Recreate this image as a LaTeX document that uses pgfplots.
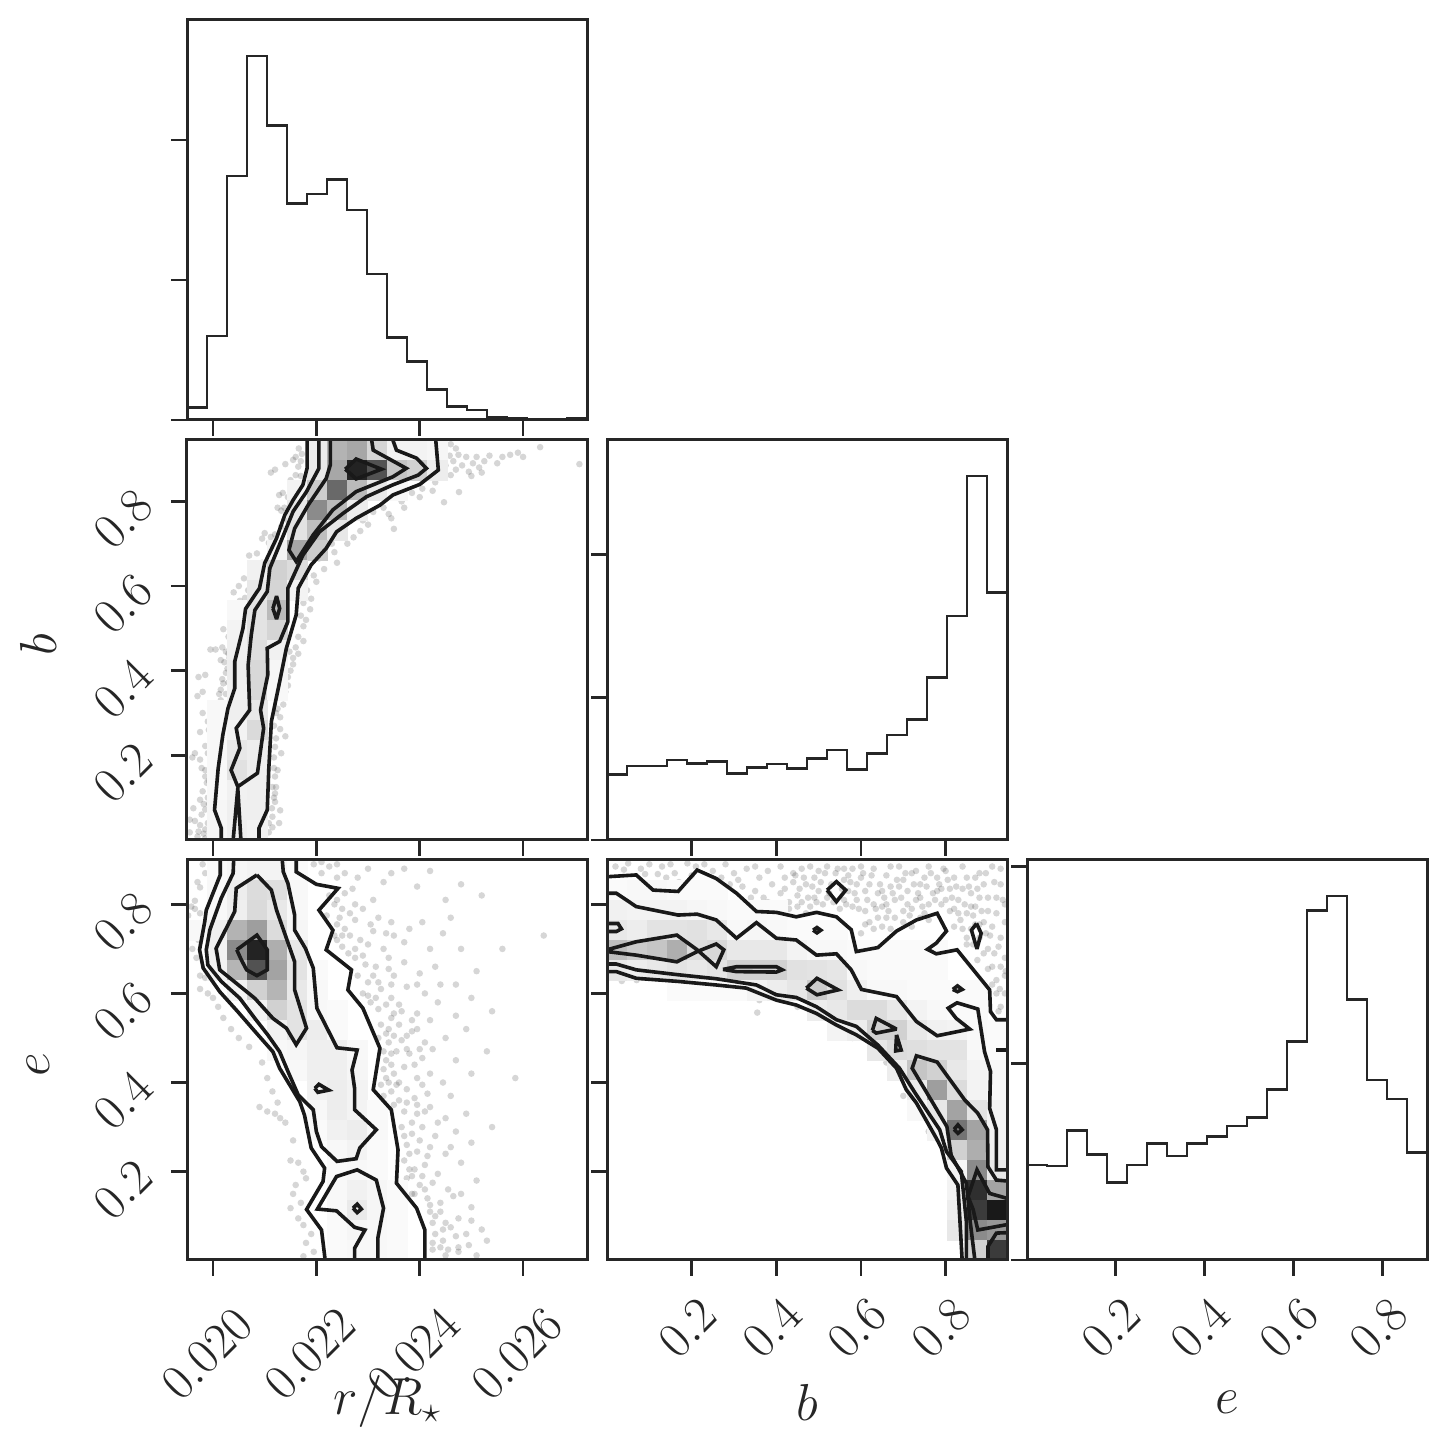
\documentclass[border=0pt]{standalone}
\usepackage{fix-cm}
\usepackage{pgfplots}
\pgfplotsset{compat=1.18}
\definecolor{fr}{rgb}{0.15,0.15,0.15}
\definecolor{cl}{rgb}{0.10,0.10,0.10}
\pgfplotsset{
 panel/.style={scale only axis,width=400pt,height=400pt,anchor=south west,
  axis on top,clip marker paths=true,
  axis line style={line width=3pt,color=fr},
  every tick/.style={line width=2.8pt,color=fr},
  major tick length=16pt,
  xtick pos=bottom,ytick pos=left,tick align=outside,
  xtick align=outside,ytick align=outside,
  xticklabels={},yticklabels={},
  scaled ticks=false,
  tick label style={font=\fontsize{50}{56}\selectfont,color=fr},
  xticklabel style={xshift=-6pt,yshift=-78pt,rotate=45,anchor=center},
  yticklabel style={xshift=-48pt,yshift=-18pt,rotate=45,anchor=center},
  xlabel style={at={(axis description cs:0.5,-0.355)},anchor=center,font=\fontsize{52}{56}\selectfont,color=fr},
  ylabel style={at={(axis description cs:-0.3725,0.4875)},anchor=center,font=\fontsize{52}{56}\selectfont,color=fr},
  colormap={gk}{rgb=(1,1,1) rgb=(0.1,0.1,0.1)},
  point meta min=0,point meta max=1,
 },
 shortx/.style={xticklabel style={xshift=19.8pt,yshift=17pt}},
 rxa/.style={xmin=0.019497,xmax=0.027237,xtick={0.020,0.022,0.024,0.026}},
 bxa/.style={xmin=0,xmax=0.945,xtick={0.2,0.4,0.6,0.8}},
 exa/.style={xmin=0.0016,xmax=0.8996,xtick={0.2,0.4,0.6,0.8}},
 bya/.style={ymin=0,ymax=0.945,ytick={0.2,0.4,0.6,0.8}},
 eya/.style={ymin=0.0016,ymax=0.8996,ytick={0.2,0.4,0.6,0.8}},
 stepline/.style={const plot,no marks,line width=2.8pt,color=fr,line join=miter},
 ct/.style={no marks,line width=3.6pt,color=cl,line join=miter,miter limit=3},
 sdots/.style={only marks,mark=*,mark size=3.3pt,mark options={draw opacity=0,fill=black,fill opacity=0.16}},
 cellsq/.style={only marks,scatter,scatter src=explicit,mark=square*,mark size=10pt,mark options={line width=0.1pt},scatter/use mapped color={fill=mapped color,draw=mapped color}},
}
\begin{document}
\begin{tikzpicture}[x=1pt,y=1pt]
\useasboundingbox (0,0) rectangle (1447,1453);

%% r/R histogram
\begin{axis}[panel,rxa,at={(187pt,1033pt)},ymin=0,ymax=2857,ytick={0,1000,2000}]
\addplot[stepline] coordinates {(0.019497,90)(0.019884,600)(0.020271,1743)(0.020658,2600)(0.021045,2105)(0.021432,1548)(0.021819,1614)(0.022206,1719)(0.022593,1500)(0.022980,1043)(0.023367,590)(0.023754,419)(0.024141,219)(0.024528,95)(0.024915,71)(0.025302,19)(0.025689,14)(0.026076,0)(0.026463,0)(0.026850,10)(0.027237,10)};
\end{axis}

%% b histogram
\begin{axis}[panel,bxa,at={(607pt,613pt)},ymin=0,ymax=2804,ytick={0,1000,2000}]
\addplot[stepline] coordinates {(0,460)(0.04725,519)(0.0945,519)(0.14175,561)(0.189,537)(0.23625,551)(0.2835,467)(0.33075,509)(0.378,533)(0.42525,502)(0.4725,572)(0.51975,631)(0.567,495)(0.61425,607)(0.6615,736)(0.70875,846)(0.756,1140)(0.80325,1570)(0.8505,2551)(0.89775,1736)(0.945,1736)};
\end{axis}

%% e histogram
\begin{axis}[panel,shortx,exa,at={(1027pt,193pt)},ymin=0,ymax=2034,ytick={0,1000,2000},
 xticklabels={$0.2$,$0.4$,$0.6$,$0.8$},xlabel={$e$}]
\addplot[stepline] coordinates {(0.0016,483)(0.0465,478)(0.0914,658)(0.1363,537)(0.1812,395)(0.2261,483)(0.2710,593)(0.3159,529)(0.3608,593)(0.4057,627)(0.4506,681)(0.4955,725)(0.5404,868)(0.5853,1110)(0.6302,1776)(0.6751,1851)(0.7200,1325)(0.7649,915)(0.8098,819)(0.8547,547)(0.8996,547)};
\end{axis}

%% b against r/R
\begin{axis}[panel,rxa,bya,at={(187pt,613pt)},yticklabels={$0.2$,$0.4$,$0.6$,$0.8$},ylabel={$b$}]
\addplot[sdots] coordinates {
(.02166,.925)(.02172,.912)(.02160,.905)(.02170,.895)(.02155,.898)(.02140,.888)(.02165,.882)(.02120,.875)(.02112,.868)(.02160,.862)(.02150,.850)(.02158,.842)
(.02135,.820)(.02128,.815)(.02145,.810)(.02138,.785)(.02125,.785)(.02132,.778)(.02145,.775)(.02100,.725)(.02112,.716)(.02095,.712)(.02120,.722)(.02108,.702)(.02085,.677)(.02070,.672)(.02095,.655)(.02080,.640)(.02060,.618)(.02078,.610)(.02050,.600)(.02068,.590)(.02040,.585)(.02062,.572)(.02052,.565)(.02045,.555)(.02035,.540)(.02050,.528)(.02020,.498)(.02040,.505)(.02030,.480)(.02040,.470)(.02018,.455)(.02005,.450)(.01995,.450)(.02025,.445)(.02032,.430)(.02015,.425)(.02022,.420)(.02028,.405)(.02035,.400)(.02040,.395)(.01985,.390)(.01972,.385)(.02018,.380)(.02030,.372)(.02035,.360)(.02015,.355)(.02025,.345)(.01980,.350)(.01970,.340)(.02015,.330)(.02005,.320)(.02022,.310)(.02008,.300)(.01995,.300)(.02018,.290)(.02010,.282)(.02000,.270)(.02015,.260)(.02005,.250)(.01998,.240)(.02010,.232)(.01985,.222)(.02000,.215)(.01990,.205)(.02008,.200)(.01965,.205)(.01960,.195)(.01975,.190)(.01995,.185)(.02002,.175)(.01985,.165)(.01978,.170)(.01998,.155)(.02004,.148)(.01988,.135)(.01995,.120)(.01980,.115)(.01990,.100)(.02000,.092)(.01975,.095)(.01962,.075)(.01985,.072)(.01995,.060)(.02000,.048)(.01955,.048)(.01965,.045)(.01975,.035)(.01985,.025)(.02000,.020)(.01995,.012)(.01955,.018)(.01970,.008)(.01985,.004)(.02008,.005)
(.02122,.125)(.02118,.100)(.02130,.070)(.02128,.040)(.02115,.030)(.02108,.018)(.02100,.010)(.02115,.055)(.02120,.090)(.02120,.150)(.02125,.165)(.02118,.195)(.02132,.205)(.02140,.245)(.02120,.220)(.02130,.262)(.02118,.270)(.02130,.290)(.02122,.300)(.02136,.320)(.02132,.340)(.02145,.365)(.02150,.400)(.02135,.385)(.02155,.430)(.02148,.445)(.02160,.455)(.02165,.480)(.02175,.505)(.02170,.530)(.02188,.545)(.02175,.560)(.02182,.590)(.02175,.610)(.02195,.625)(.02205,.665)(.02215,.680)(.02240,.655)(.02230,.700)(.02245,.720)(.02255,.745)(.02272,.715)(.02285,.730)(.02290,.755)(.02310,.775)(.02330,.785)(.02345,.760)(.02350,.735)(.02365,.800)(.02385,.820)(.02405,.830)(.02430,.845)(.02447,.798)(.02476,.822)(.02460,.862)
(.02445,.902)(.02442,.920)(.02450,.885)(.02458,.908)(.02465,.895)(.02470,.875)(.02475,.910)(.02482,.885)(.02490,.905)(.02495,.870)(.02503,.890)(.02510,.905)(.02515,.880)(.02525,.895)(.02535,.908)(.02550,.890)(.02560,.905)(.02575,.910)(.02590,.915)(.02600,.905)(.02520,.868)(.02470,.925)(.02460,.935)(.02500,.860)(.02633,.928)(.02709,.888)
(.01980,.300)(.01990,.280)(.01992,.260)(.01975,.255)(.02002,.295)(.02012,.345)(.02020,.370)(.02025,.395)(.02030,.440)(.02038,.455)(.02045,.490)(.02055,.510)(.02065,.550)(.02075,.580)(.02085,.600)(.02095,.625)(.02105,.640)(.02118,.680)(.02125,.700)(.02132,.740)(.02145,.755)(.02150,.790)(.02160,.815)(.02170,.860)(.01985,.150)(.01992,.140)(.01982,.085)(.01992,.085)(.01998,.105)(.01978,.060)(.01990,.040)(.01972,.020)(.01982,.015)(.02000,.035)(.02108,.040)(.02114,.075)(.02120,.110)(.02115,.125)(.02118,.170)(.02122,.240)(.02125,.310)(.02140,.350)(.02145,.385)(.02155,.415)(.02165,.440)(.02175,.470)(.02180,.520)(.02190,.570)(.02200,.610)(.02215,.640)(.02235,.680)(.02260,.700)(.02300,.745)(.02340,.770)(.02370,.785)(.02400,.810)(.02425,.825)};
\addplot[cellsq] table[meta index=2,row sep=\\]{
.02201 .921 .08\\.02240 .921 .33\\.02279 .921 .38\\.02318 .921 .18\\.02356 .921 .05\\.02395 .921 .05\\.02434 .921 .04\\
.02201 .874 .10\\.02240 .874 .38\\.02279 .874 .95\\.02318 .874 .75\\.02356 .874 .25\\.02395 .874 .20\\.02434 .874 .08\\
.02163 .827 .05\\.02201 .827 .22\\.02240 .827 .65\\.02279 .827 .30\\.02318 .827 .10\\.02356 .827 .03\\
.02163 .779 .10\\.02201 .779 .50\\.02240 .779 .30\\.02279 .779 .08\\
.02163 .732 .12\\.02201 .732 .28\\.02240 .732 .10\\
.02124 .685 .05\\.02163 .685 .38\\.02201 .685 .22\\
.02085 .638 .06\\.02124 .638 .20\\.02163 .638 .15\\
.02085 .590 .10\\.02124 .590 .18\\.02163 .590 .05\\
.02047 .543 .03\\.02085 .543 .12\\.02124 .543 .30\\
.02047 .496 .05\\.02085 .496 .12\\.02124 .496 .18\\
.02047 .449 .07\\.02085 .449 .14\\.02124 .449 .06\\
.02047 .401 .08\\.02085 .401 .17\\.02124 .401 .04\\
.02047 .354 .06\\.02085 .354 .17\\.02124 .354 .03\\
.02008 .307 .03\\.02047 .307 .07\\.02085 .307 .10\\
.02008 .260 .03\\.02047 .260 .05\\.02085 .260 .16\\
.02008 .213 .03\\.02047 .213 .10\\.02085 .213 .08\\
.02008 .165 .03\\.02047 .165 .13\\.02085 .165 .08\\
.02008 .118 .03\\.02047 .118 .06\\.02085 .118 .07\\
.02008 .071 .04\\.02047 .071 .07\\.02085 .071 .07\\
.02008 .024 .04\\.02047 .024 .07\\.02085 .024 .05\\
};
\addplot[ct] coordinates {(.02182,.945)(.02182,.878)(.02174,.839)(.02155,.803)(.02139,.768)(.02123,.713)(.02100,.654)(.02090,.595)(.02063,.546)(.02058,.500)(.02042,.421)(.02042,.358)(.02029,.311)(.02019,.248)(.02010,.169)(.02003,.071)(.02016,.028)(.02016,0)};
\addplot[ct] coordinates {(.02089,0)(.02089,.028)(.02105,.071)(.02108,.169)(.02113,.280)(.02129,.374)(.02142,.453)(.02161,.532)(.02165,.595)(.02190,.650)(.02219,.689)(.02239,.728)(.02277,.760)(.02323,.791)(.02348,.815)(.02400,.840)(.02436,.874)(.02431,.945)};
\addplot[ct] coordinates {(.02348,.945)(.02355,.921)(.02394,.902)(.02413,.878)(.02397,.862)(.02348,.839)(.02297,.811)(.02252,.772)(.02206,.728)(.02174,.673)(.02145,.595)(.02145,.516)(.02129,.469)(.02105,.453)(.02106,.390)(.02092,.307)(.02098,.264)(.02086,.158)(.02048,.126)(.02035,.165)(.02052,.217)(.02045,.264)(.02071,.307)(.02068,.413)(.02074,.484)(.02081,.543)(.02105,.587)(.02110,.642)(.02139,.728)(.02155,.776)(.02181,.823)(.02205,.878)(.02205,.945)};
\addplot[ct] coordinates {(.02039,0)(.02048,.122)(.02054,0)};
\addplot[ct] coordinates {(.02307,.945)(.02310,.921)(.02374,.878)(.02348,.858)(.02277,.823)(.02232,.780)(.02194,.721)(.02161,.658)(.02147,.685)(.02158,.736)(.02184,.791)(.02219,.854)(.02227,.886)(.02227,.945)};
\addplot[ct] coordinates {(.02256,.876)(.02277,.900)(.02326,.876)(.02277,.853)(.02256,.876)};
\addplot[ct] coordinates {(.02116,.547)(.02123,.576)(.02129,.547)(.02123,.522)(.02116,.547)};
\end{axis}

%% e against r/R
\begin{axis}[panel,rxa,eya,at={(187pt,193pt)},xticklabels={$0.020$,$0.022$,$0.024$,$0.026$},yticklabels={$0.2$,$0.4$,$0.6$,$0.8$},xlabel={$r/R_\star$},ylabel={$e$}]
\addplot[sdots] coordinates {
(.01980,.890)(.01985,.870)(.01970,.850)(.01975,.838)(.01965,.808)(.01958,.795)(.01965,.790)(.01975,.780)(.01952,.775)(.01958,.755)(.01972,.720)(.01960,.700)(.01968,.680)(.01975,.640)(.01985,.635)(.01975,.610)(.01990,.600)(.02000,.590)(.02010,.570)(.02020,.545)(.02035,.520)(.02050,.500)(.02070,.480)(.02095,.445)(.02105,.410)(.02115,.380)(.02125,.355)(.02130,.320)(.02090,.345)(.02105,.335)(.02140,.310)(.02120,.330)(.02155,.270)(.02150,.225)(.02165,.220)(.02175,.200)(.02180,.185)(.02160,.170)(.02155,.150)(.02170,.130)(.02150,.118)(.02165,.095)(.02175,.080)(.02190,.060)(.02180,.040)(.02195,.020)(.02175,.010)
(.02195,.890)(.02210,.895)(.02225,.885)(.02240,.890)(.02255,.870)(.02280,.860)(.02300,.880)(.02345,.870)(.02370,.880)(.02395,.840)(.02420,.875)(.02450,.810)(.02480,.845)(.02520,.820)(.02460,.770)(.02560,.700)(.02510,.650)
(.02240,.810)(.02255,.825)(.02250,.790)(.02265,.780)(.02245,.770)(.02275,.765)(.02290,.790)(.02320,.770)(.02305,.755)(.02255,.745)(.02265,.730)(.02285,.720)(.02300,.710)(.02335,.735)(.02350,.730)(.02380,.745)(.02405,.760)(.02445,.735)(.02420,.700)(.02480,.700)(.02240,.720)(.02250,.705)(.02262,.690)(.02275,.680)(.02295,.665)(.02315,.660)(.02340,.680)(.02370,.670)(.02400,.645)(.02430,.660)(.02440,.620)(.02470,.620)(.02500,.590)(.02540,.560)(.02280,.640)(.02300,.625)(.02325,.610)(.02350,.640)(.02375,.615)(.02410,.600)(.02435,.580)(.02290,.600)(.02305,.580)(.02320,.565)(.02345,.590)(.02365,.560)(.02395,.555)(.02420,.540)(.02470,.550)(.02325,.530)(.02340,.520)(.02360,.530)(.02375,.505)(.02395,.520)(.02410,.490)(.02450,.500)(.02490,.520)(.02340,.490)(.02355,.470)(.02380,.465)(.02405,.455)(.02425,.475)(.02470,.450)(.02530,.470)(.02585,.410)(.02335,.450)(.02330,.430)(.02350,.420)(.02370,.435)(.02395,.410)(.02420,.420)(.02445,.400)(.02500,.420)(.02325,.395)(.02345,.380)(.02375,.385)(.02390,.365)(.02415,.375)(.02460,.370)(.02350,.350)(.02370,.335)(.02395,.330)(.02420,.345)(.02450,.320)(.02490,.330)(.02540,.300)(.02365,.300)(.02385,.285)(.02405,.300)(.02430,.280)(.02470,.290)(.02375,.260)(.02395,.245)(.02420,.255)(.02450,.240)(.02500,.265)(.02370,.225)(.02390,.205)(.02410,.215)(.02435,.195)(.02480,.220)(.02375,.185)(.02400,.170)(.02425,.175)(.02455,.160)(.02510,.180)(.02415,.140)(.02440,.130)(.02465,.145)(.02500,.120)(.02430,.100)(.02450,.085)(.02475,.095)(.02520,.070)(.02430,.060)(.02445,.045)(.02470,.055)(.02495,.035)(.02530,.045)(.02425,.025)(.02450,.012)(.02475,.020)(.02510,.012)(.02320,.500)(.02345,.545)(.02365,.495)(.02385,.540)(.02360,.400)(.02435,.310)(.02460,.255)(.02385,.150)(.02420,.110)(.02640,.730)(.02475,.030)
(.02225,.820)(.02235,.800)(.02220,.775)(.02240,.755)(.02235,.730)(.02250,.730)(.02275,.700)(.02290,.685)(.02310,.640)(.02320,.625)(.02300,.595)(.02315,.590)(.02335,.575)(.02350,.555)(.02335,.510)(.02350,.505)(.02345,.465)(.02330,.470)(.02345,.440)(.02335,.410)(.02340,.400)(.02330,.370)(.02355,.395)(.02360,.360)(.02375,.355)(.02385,.310)(.02370,.280)(.02380,.240)(.02380,.205)(.02385,.190)(.02370,.165)(.02390,.150)(.02410,.160)(.02420,.125)(.02440,.110)(.02425,.085)(.02445,.070)(.02460,.075)(.02425,.040)(.02440,.030)(.02455,.025)(.02490,.060)(.02500,.090)(.02480,.150)(.02405,.190)(.02415,.235)(.02400,.270)(.02410,.335)(.02395,.350)(.02405,.395)(.02390,.440)(.02375,.475)(.02400,.475)(.02385,.515)(.02360,.575)(.02345,.620)(.02395,.620)(.02340,.655)(.02330,.700)(.02370,.715)(.02310,.740)(.02345,.760)(.02275,.800)(.02310,.810)(.02270,.835)(.02330,.850)(.02240,.860)(.02210,.870)};
\addplot[cellsq] table[meta index=2,row sep=\\]{
.02008 .877 .02\\.02047 .877 .04\\.02085 .877 .05\\.02124 .877 .05\\.02163 .877 .02\\
.02008 .832 .03\\.02047 .832 .08\\.02085 .832 .15\\.02124 .832 .14\\.02163 .832 .03\\
.02008 .787 .03\\.02047 .787 .07\\.02085 .787 .16\\.02124 .787 .10\\.02163 .787 .03\\
.01969 .743 .03\\.02008 .743 .07\\.02047 .743 .33\\.02085 .743 .42\\.02124 .743 .15\\.02163 .743 .04\\
.02008 .698 .05\\.02047 .698 .50\\.02085 .698 .95\\.02124 .698 .35\\.02163 .698 .10\\
.02008 .653 .05\\.02047 .653 .32\\.02085 .653 .75\\.02124 .653 .40\\.02163 .653 .12\\.02201 .653 .02\\
.02047 .608 .05\\.02085 .608 .20\\.02124 .608 .32\\.02163 .608 .10\\.02201 .608 .03\\
.02085 .563 .05\\.02124 .563 .20\\.02163 .563 .12\\.02201 .563 .03\\.02240 .563 .02\\
.02124 .518 .06\\.02163 .518 .12\\.02201 .518 .08\\.02240 .518 .02\\
.02124 .473 .03\\.02163 .473 .04\\.02201 .473 .07\\.02240 .473 .07\\.02279 .473 .03\\
.02163 .428 .03\\.02201 .428 .07\\.02240 .428 .07\\.02279 .428 .04\\
.02201 .383 .06\\.02240 .383 .08\\.02279 .383 .05\\
.02201 .338 .03\\.02240 .338 .08\\.02279 .338 .05\\.02318 .338 .02\\
.02201 .293 .02\\.02240 .293 .06\\.02279 .293 .08\\.02318 .293 .03\\
.02240 .248 .03\\.02279 .248 .05\\.02318 .248 .02\\
.02240 .204 .02\\.02279 .204 .03\\.02318 .204 .02\\
.02240 .159 .03\\.02279 .159 .06\\.02318 .159 .04\\.02356 .159 .02\\
.02240 .114 .03\\.02279 .114 .09\\.02318 .114 .04\\.02356 .114 .02\\
.02240 .069 .02\\.02279 .069 .04\\.02318 .069 .03\\.02356 .069 .02\\
.02240 .024 .02\\.02279 .024 .03\\.02318 .024 .03\\.02356 .024 .02\\
};
\addplot[ct] coordinates {(.02014,.900)(.02014,.866)(.01987,.787)(.01984,.761)(.01974,.698)(.01981,.657)(.02013,.604)(.02048,.559)(.02084,.511)(.02116,.469)(.02129,.432)(.02168,.357)(.02177,.327)(.02190,.253)(.02216,.208)(.02213,.178)(.02181,.115)(.02210,.069)(.02217,.002)};
\addplot[ct] coordinates {(.02161,.900)(.02161,.873)(.02200,.845)(.02242,.836)(.02205,.787)(.02232,.742)(.02219,.698)(.02268,.653)(.02261,.608)(.02290,.567)(.02323,.477)(.02310,.384)(.02345,.339)(.02358,.249)(.02355,.174)(.02394,.118)(.02410,.069)(.02410,.002)};
\addplot[ct] coordinates {(.02040,.900)(.02039,.870)(.02016,.814)(.01994,.743)(.01987,.698)(.01990,.664)(.02016,.627)(.02052,.589)(.02081,.544)(.02106,.507)(.02129,.469)(.02145,.425)(.02165,.372)(.02194,.339)(.02200,.290)(.02210,.256)(.02240,.223)(.02277,.229)(.02284,.253)(.02316,.294)(.02274,.339)(.02274,.387)(.02269,.428)(.02279,.473)(.02240,.478)(.02201,.567)(.02194,.657)(.02179,.701)(.02158,.742)(.02158,.776)(.02145,.847)(.02136,.873)(.02134,.900)};
\addplot[ct] coordinates {(.02085,.866)(.02113,.832)(.02123,.787)(.02142,.724)(.02158,.671)(.02158,.608)(.02181,.522)(.02161,.485)(.02142,.522)(.02116,.544)(.02081,.589)(.02045,.623)(.02013,.653)(.02006,.701)(.02042,.784)(.02045,.836)(.02085,.866)};
\addplot[ct] coordinates {(.02046,.698)(.02085,.731)(.02105,.698)(.02105,.653)(.02085,.640)(.02065,.653)(.02055,.675)(.02046,.698)};
\addplot[ct] coordinates {(.02197,.387)(.02205,.396)(.02224,.383)(.02203,.378)(.02197,.387)};
\addplot[ct] coordinates {(.02274,.002)(.02274,.028)(.02294,.069)(.02274,.075)(.02239,.112)(.02202,.116)(.02239,.189)(.02279,.204)(.02316,.181)(.02330,.118)(.02319,.051)(.02319,.002)};
\addplot[ct] coordinates {(.02271,.118)(.02279,.127)(.02287,.116)(.02279,.108)(.02271,.118)};
\end{axis}

%% e against b
\begin{axis}[panel,shortx,bxa,eya,at={(607pt,193pt)},xticklabels={$0.2$,$0.4$,$0.6$,$0.8$},xlabel={$b$}]
\addplot[sdots] coordinates {
(.02,.885)(.05,.892)(.08,.880)(.10,.890)(.12,.868)(.14,.860)(.13,.885)(.16,.870)(.17,.850)(.19,.892)(.21,.885)(.23,.890)(.25,.875)(.28,.890)(.30,.870)(.31,.855)(.33,.880)(.32,.840)(.35,.885)(.36,.860)(.35,.830)(.38,.875)(.39,.845)(.37,.815)(.41,.885)(.42,.860)(.41,.825)(.44,.850)(.40,.800)(.43,.805)(.46,.880)(.47,.845)(.45,.820)(.48,.795)(.49,.860)(.50,.830)(.52,.885)(.54,.870)(.53,.845)(.51,.800)(.56,.855)(.57,.830)(.55,.790)(.58,.880)(.60,.860)(.59,.810)(.61,.785)(.62,.845)(.63,.880)(.64,.825)(.62,.760)(.60,.735)(.65,.795)(.66,.865)(.67,.840)(.66,.770)(.68,.810)(.69,.885)(.70,.855)(.71,.830)(.70,.785)(.72,.870)(.73,.810)(.74,.845)(.75,.780)(.76,.885)(.77,.825)(.78,.860)(.79,.800)(.80,.875)(.81,.835)(.81,.785)(.82,.750)(.83,.810)(.84,.885)(.85,.860)(.85,.780)(.86,.825)(.85,.725)(.87,.795)(.88,.870)(.89,.845)(.89,.760)(.90,.815)(.90,.700)(.91,.885)(.92,.780)(.91,.660)(.93,.845)(.93,.725)(.92,.630)(.94,.680)(.94,.600)(.93,.570)(.94,.800)
(.04,.878)(.09,.868)(.15,.890)(.20,.865)(.27,.860)(.29,.845)(.34,.815)(.38,.805)(.42,.835)(.46,.805)(.50,.875)(.52,.815)(.56,.810)(.58,.795)(.61,.830)(.63,.800)(.65,.830)(.66,.800)(.68,.770)(.69,.840)(.71,.800)(.72,.790)(.74,.815)(.75,.860)(.76,.800)(.78,.830)(.80,.810)(.82,.860)(.83,.780)(.84,.835)(.86,.795)(.87,.755)(.87,.860)(.88,.815)(.88,.725)(.89,.690)(.90,.785)(.90,.655)(.91,.750)(.92,.600)(.92,.815)(.93,.880)(.93,.660)(.94,.760)(.94,.640)(.925,.560)(.935,.535)(.91,.620)(.865,.710)(.875,.675)(.84,.745)(.85,.710)(.82,.790)(.79,.835)(.73,.875)(.67,.885)(.60,.885)(.56,.880)(.48,.885)(.44,.870)(.45,.795)(.43,.790)(.47,.780)(.49,.815)(.57,.865)(.59,.845)(.64,.770)(.63,.745)(.61,.755)(.65,.750)(.67,.745)(.70,.760)(.72,.750)(.74,.770)(.76,.765)
(.035,.628)(.07,.630)(.18,.622)(.22,.620)(.24,.622)(.29,.612)(.36,.585)(.355,.557)(.45,.570)(.56,.515)(.58,.500)(.66,.445)(.67,.430)(.70,.370)(.76,.290)(.82,.190)
(.445,.865)(.455,.835)(.465,.860)(.475,.815)(.485,.840)(.495,.805)(.505,.850)(.515,.870)(.525,.825)(.535,.805)(.545,.880)(.555,.835)(.565,.800)(.575,.850)(.585,.825)(.595,.790)(.605,.870)(.615,.810)(.625,.865)(.635,.790)(.645,.845)(.655,.815)(.665,.785)(.675,.825)(.685,.855)(.695,.815)(.705,.870)(.715,.775)(.725,.845)(.735,.825)(.745,.795)(.755,.840)(.765,.870)(.775,.810)(.785,.845)(.795,.880)(.805,.855)(.815,.815)(.825,.840)(.835,.765)(.845,.800)(.855,.840)(.865,.775)(.875,.835)(.885,.785)(.895,.870)(.905,.730)(.915,.850)(.925,.705)(.935,.810)(.942,.650)(.928,.610)(.915,.690)(.895,.735)(.88,.755)(.86,.745)};
\addplot[cellsq] table[meta index=2,row sep=\\]{
.024 .832 .02\\.071 .832 .03\\.118 .832 .03\\.165 .832 .02\\.213 .832 .02\\.260 .832 .02\\
.024 .787 .06\\.071 .787 .05\\.118 .787 .05\\.165 .787 .05\\.213 .787 .04\\.260 .787 .03\\.307 .787 .02\\.354 .787 .02\\.402 .787 .02\\
.024 .743 .10\\.071 .743 .08\\.118 .743 .12\\.165 .743 .12\\.213 .743 .13\\.260 .743 .10\\.307 .743 .03\\.354 .743 .04\\.402 .743 .03\\.449 .743 .02\\.496 .743 .02\\.543 .743 .02\\
.024 .698 .28\\.071 .698 .22\\.118 .698 .25\\.165 .698 .35\\.213 .698 .15\\.260 .698 .17\\.307 .698 .10\\.354 .698 .10\\.402 .698 .10\\.449 .698 .05\\.496 .698 .03\\.543 .698 .03\\.591 .698 .02\\.638 .698 .02\\.685 .698 .02\\.732 .698 .02\\.780 .698 .02\\
.024 .653 .10\\.071 .653 .08\\.118 .653 .10\\.165 .653 .12\\.213 .653 .10\\.260 .653 .12\\.307 .653 .20\\.354 .653 .20\\.402 .653 .20\\.449 .653 .13\\.496 .653 .12\\.543 .653 .11\\.591 .653 .03\\.638 .653 .02\\.685 .653 .02\\.732 .653 .02\\.780 .653 .02\\
.165 .608 .02\\.213 .608 .02\\.260 .608 .02\\.307 .608 .02\\.354 .608 .05\\.402 .608 .08\\.449 .608 .11\\.496 .608 .22\\.543 .608 .13\\.591 .608 .07\\.638 .608 .03\\.685 .608 .03\\.732 .608 .02\\.780 .608 .02\\.827 .608 .02\\.874 .608 .02\\
.496 .563 .08\\.543 .563 .10\\.591 .563 .15\\.638 .563 .15\\.685 .563 .10\\.732 .563 .05\\.780 .563 .03\\.827 .563 .02\\.874 .563 .02\\
.543 .518 .05\\.591 .518 .08\\.638 .518 .20\\.685 .518 .20\\.732 .518 .10\\.780 .518 .06\\.827 .518 .05\\.874 .518 .03\\.921 .518 .02\\
.638 .473 .10\\.685 .473 .15\\.732 .473 .14\\.780 .473 .12\\.827 .473 .12\\.874 .473 .03\\.921 .473 .02\\
.685 .428 .08\\.732 .428 .25\\.780 .428 .20\\.827 .428 .10\\.874 .428 .05\\.921 .428 .03\\
.732 .383 .08\\.780 .383 .42\\.827 .383 .15\\.874 .383 .05\\.921 .383 .03\\
.732 .338 .03\\.780 .338 .10\\.827 .338 .40\\.874 .338 .12\\.921 .338 .05\\
.780 .293 .05\\.827 .293 .60\\.874 .293 .40\\.921 .293 .05\\
.827 .248 .20\\.874 .248 .35\\.921 .248 .06\\
.827 .204 .04\\.874 .204 .50\\.921 .204 .10\\
.827 .159 .05\\.874 .159 .90\\.921 .159 .40\\
.827 .114 .08\\.874 .114 .85\\.921 .114 1.0\\
.827 .069 .10\\.874 .069 .50\\.921 .069 .45\\
.874 .024 .20\\.921 .024 .85\\
};
\addplot[ct] coordinates {(0,.862)(.069,.866)(.109,.832)(.168,.829)(.213,.877)(.258,.858)(.306,.825)(.353,.784)(.400,.782)(.447,.772)(.495,.782)(.542,.772)(.577,.743)(.589,.694)(.640,.703)(.684,.740)(.731,.765)(.780,.780)(.802,.740)(.778,.713)(.757,.699)(.778,.689)(.827,.698)(.904,.608)(.906,.559)(.920,.541)(.945,.541)};
\addplot[ct] coordinates {(0,.825)(.022,.825)(.069,.795)(.168,.776)(.213,.778)(.258,.765)(.306,.724)(.353,.759)(.400,.724)(.447,.720)(.495,.686)(.542,.689)(.577,.653)(.601,.609)(.684,.593)(.731,.537)(.780,.505)(.857,.520)(.825,.544)(.806,.567)(.827,.579)(.876,.565)(.892,.469)(.906,.425)(.904,.342)(.920,.294)(.920,.204)(.945,.204)};
\addplot[ct] coordinates {(0,.649)(.022,.649)(.069,.634)(.168,.627)(.258,.619)(.329,.612)(.400,.585)(.447,.574)(.495,.555)(.542,.529)(.589,.507)(.640,.477)(.684,.432)(.707,.384)(.731,.354)(.778,.275)(.790,.253)(.802,.208)(.829,.170)(.839,.002)};
\addplot[ct] coordinates {(0,.666)(.022,.666)(.069,.653)(.168,.642)(.258,.633)(.353,.619)(.400,.597)(.447,.591)(.495,.570)(.542,.541)(.589,.526)(.640,.484)(.691,.432)(.731,.372)(.786,.294)(.802,.245)(.837,.200)(.849,.088)(.849,.002)};
\addplot[ct] coordinates {(.869,.002)(.858,.088)(.849,.174)(.813,.237)(.803,.301)(.770,.354)(.721,.432)(.731,.460)(.780,.446)(.845,.361)(.876,.331)(.899,.294)(.900,.211)(.920,.181)(.945,.179)};
\addplot[ct] coordinates {(.945,.140)(.904,.151)(.874,.204)(.853,.144)(.865,.115)(.876,.069)(.945,.081)};
\addplot[ct] coordinates {(.900,.002)(.900,.032)(.920,.062)(.945,.063)};
\addplot[ct] coordinates {(0,.698)(.069,.716)(.165,.731)(.213,.698)(.258,.660)(.276,.698)(.258,.711)(.213,.694)(.165,.671)(.069,.686)(0,.694)};
\addplot[ct] coordinates {(.274,.654)(.306,.660)(.400,.660)(.414,.653)(.400,.648)(.306,.649)(.274,.654)};
\addplot[ct] coordinates {(0,.757)(.026,.757)(.034,.745)(.022,.739)(0,.739)};
\addplot[ct] coordinates {(.471,.612)(.496,.634)(.546,.608)(.496,.597)(.471,.612)};
\addplot[ct] coordinates {(.627,.517)(.636,.544)(.684,.520)(.636,.511)(.627,.517)};
\addplot[ct] coordinates {(.684,.507)(.695,.473)(.682,.471)(.684,.507)};
\addplot[ct] coordinates {(.817,.609)(.828,.617)(.839,.609)(.828,.604)(.817,.609)};
\addplot[ct] coordinates {(.487,.742)(.496,.748)(.505,.742)(.496,.736)(.487,.742)};
\addplot[ct] coordinates {(.820,.295)(.829,.305)(.839,.294)(.829,.286)(.820,.295)};
\addplot[ct] coordinates {(.873,.757)(.884,.735)(.874,.700)(.861,.742)(.873,.757)};
\addplot[ct] coordinates {(.520,.832)(.542,.851)(.564,.832)(.542,.806)(.520,.832)};
\addplot[ct] coordinates {(.920,.473)(.945,.473)};
\end{axis}
\end{tikzpicture}
\end{document}
